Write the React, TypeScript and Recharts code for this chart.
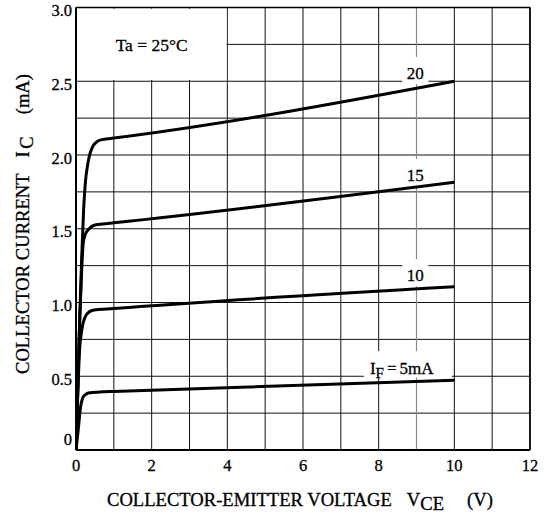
import React from 'react';
import {
  LineChart,
  Line,
  XAxis,
  YAxis,
  CartesianGrid,
  ReferenceLine,
  ReferenceArea,
  ReferenceDot,
} from 'recharts';

const FONT = '"Liberation Serif", "Times New Roman", serif';
const TXT = { fontFamily: FONT, fill: '#000', stroke: '#000', strokeWidth: 0.3 };

// I_F = 20 mA
const vce20 = [0, 0.05, 0.1, 0.15, 0.2, 0.25, 0.3, 0.35, 0.42, 0.55, 0.72, 1, 10];
const ic20 = [0, 0.45, 0.9, 1.3, 1.62, 1.82, 1.92, 1.99, 2.045, 2.09, 2.106, 2.115, 2.5];
// I_F = 15 mA
const vce15 = [0, 0.05, 0.1, 0.15, 0.19, 0.25, 0.33, 0.46, 0.7, 1, 10];
const ic15 = [0, 0.45, 0.9, 1.22, 1.4, 1.465, 1.495, 1.522, 1.532, 1.54, 1.815];
// I_F = 10 mA
const vce10 = [0, 0.05, 0.1, 0.13, 0.17, 0.21, 0.28, 0.45, 1, 10];
const ic10 = [0, 0.4, 0.7, 0.77, 0.84, 0.88, 0.92, 0.948, 0.959, 1.106];
// I_F = 5 mA
const vce5 = [0, 0.06, 0.12, 0.15, 0.19, 0.25, 0.33, 0.63, 1, 10];
const ic5 = [0, 0.14, 0.29, 0.33, 0.36, 0.376, 0.387, 0.393, 0.397, 0.473];

const xGridTicks = [0, 1, 2, 3, 4, 5, 6, 7, 8, 9, 10, 11, 12];
const xTickLabels = [0, 2, 4, 6, 8, 10, 12];
const yGridTicks = [0, 0.25, 0.5, 0.75, 1, 1.25, 1.5, 1.75, 2, 2.25, 2.5, 2.75, 3];
const yTickLabels = [0, 0.5, 1, 1.5, 2, 2.5, 3];

const curveLabelV = [8.97, 8.97, 8.97];
const curveLabelI = [2.556, 1.865, 1.185];
const curveLabelText = ['20', '15', '10'];
const ifLabel = { v: 8.72, ic: 0.555 };
const taLabel = { v: 2.0, ic: 2.745, text: 'Ta = 25°C' };

const toPts = (vs: number[], is: number[]) => vs.map((v, k) => ({ v, ic: is[k] }));
const s20 = toPts(vce20, ic20);
const s15 = toPts(vce15, ic15);
const s10 = toPts(vce10, ic10);
const s5 = toPts(vce5, ic5);

const XTick = (props: any) => {
  const { x, y, payload } = props;
  if (!xTickLabels.includes(payload.value)) return <g />;
  return (
    <text x={x} y={y + 21.3} textAnchor="middle" fontSize={16.5} {...TXT}>
      {payload.value}
    </text>
  );
};

const YTick = (props: any) => {
  const { x, y, payload } = props;
  const v = payload.value;
  if (!yTickLabels.includes(v)) return <g />;
  return (
    <text x={x - 4} y={v === 0 ? y - 4.8 : y + 8.6} textAnchor="end" fontSize={16.5} {...TXT}>
      {v === 0 ? '0' : v.toFixed(1)}
    </text>
  );
};

const XTitle = (props: any) => {
  const vb = props.viewBox || { x: 76, y: 450 };
  return (
    <text x={vb.x + 31} y={vb.y + 56.3} fontSize={18.6} {...TXT}>
      COLLECTOR-EMITTER VOLTAGE
      <tspan dx={15}>V</tspan>
      <tspan dy={4}>CE</tspan>
      <tspan dy={-4} dx={23}>(V)</tspan>
    </text>
  );
};

const YTitle = (props: any) => {
  const vb = props.viewBox || { x: 0, y: 7.5 };
  const x = vb.x + 28.5;
  const y = vb.y + 366.5;
  return (
    <text x={x} y={y} transform={`rotate(-90 ${x} ${y})`} fontSize={18.6} {...TXT}>
      COLLECTOR CURRENT
      <tspan dx={16}>I</tspan>
      <tspan dy={4} dx={2.5}>C</tspan>
      <tspan dy={-4} dx={22}>(mA)</tspan>
    </text>
  );
};

const makeNumLabel = (text: string) => (p: any) => (
  <g>
    <rect x={p.cx - 13} y={p.cy - 16} width={26} height={27} fill="#fff" />
    <text x={p.cx} y={p.cy + 6} textAnchor="middle" fontSize={17} {...TXT}>
      {text}
    </text>
  </g>
);

const IfLabelShape = (p: any) => (
  <g>
    <rect x={p.cx - 42} y={p.cy - 17} width={88} height={26.5} fill="#fff" />
    <text x={p.cx - 36} y={p.cy + 6} fontSize={17} {...TXT}>
      I
      <tspan dy={4} fontSize={15}>F</tspan>
      <tspan dy={-4} dx={3}>=</tspan>
      <tspan dx={3}>5mA</tspan>
    </text>
  </g>
);

const TaShape = (p: any) => (
  <text x={p.cx} y={p.cy + 6} textAnchor="middle" fontSize={17.5} {...TXT}>
    {taLabel.text}
  </text>
);

export default function App() {
  return (
    <div style={{ position: 'absolute', left: 0, top: 0, background: '#fff' }}>
      <LineChart width={544} height={516} margin={{ top: 7.5, right: 14, bottom: 0, left: 0 }}>
        <CartesianGrid stroke="#111" strokeWidth={1} />
        <XAxis
          type="number"
          dataKey="v"
          domain={[0, 12]}
          ticks={xGridTicks}
          interval={0}
          allowDataOverflow
          height={66}
          tickSize={0}
          tickMargin={0}
          tickLine={false}
          axisLine={{ stroke: '#000', strokeWidth: 2 }}
          tick={XTick}
          label={XTitle}
        />
        <YAxis
          type="number"
          domain={[0, 3]}
          ticks={yGridTicks}
          interval={0}
          allowDataOverflow
          width={76}
          tickSize={0}
          tickMargin={0}
          tickLine={false}
          axisLine={{ stroke: '#000', strokeWidth: 2 }}
          tick={YTick}
          label={YTitle}
        />
        <ReferenceArea
          x1={0.02}
          x2={3.98}
          y1={2.508}
          y2={2.992}
          fill="#fff"
          fillOpacity={1}
          stroke="none"
          zIndex={-80}
          ifOverflow="visible"
        />
        <ReferenceLine x={9} stroke="#8a8a8a" strokeWidth={1.2} zIndex={-70} />
        <ReferenceDot x={taLabel.v} y={taLabel.ic} r={1} shape={TaShape} zIndex={300} />
        {curveLabelText.map((t, k) => (
          <ReferenceDot
            key={t}
            x={curveLabelV[k]}
            y={curveLabelI[k]}
            r={1}
            shape={makeNumLabel(t)}
            zIndex={300}
          />
        ))}
        <ReferenceDot x={ifLabel.v} y={ifLabel.ic} r={1} shape={IfLabelShape} zIndex={300} />
        <ReferenceLine y={3} stroke="#000" strokeWidth={1.6} zIndex={450} />
        <ReferenceLine x={12} stroke="#000" strokeWidth={1.6} zIndex={450} />
        {[s20, s15, s10, s5].map((s, k) => (
          <Line
            key={k}
            data={s}
            dataKey="ic"
            type="monotone"
            stroke="#000"
            strokeWidth={3}
            dot={false}
            activeDot={false}
            isAnimationActive={false}
            zIndex={400}
          />
        ))}
      </LineChart>
    </div>
  );
}
